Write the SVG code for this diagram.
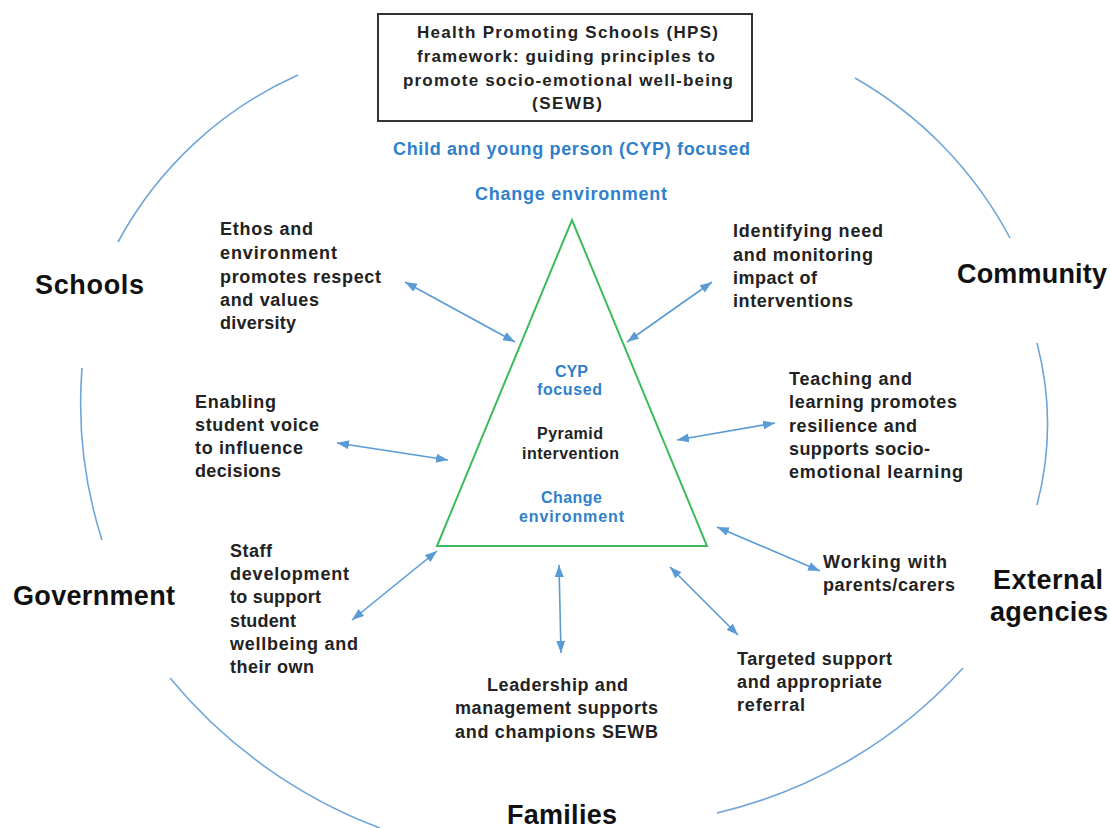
<svg xmlns="http://www.w3.org/2000/svg" width="1110" height="828" viewBox="0 0 1110 828">
<defs>
<style>
.t{font-family:"Liberation Sans",Arial,sans-serif;font-weight:bold;fill:#222;}
.b{font-size:18px;}
.box{font-size:17px;}
.blue{fill:#2F7FCC;}
.tri{font-size:16px;}
.big{font-size:27px;fill:#111;}
.arc{fill:none;stroke:#6FA6DA;stroke-width:1.6;}
.con{fill:none;stroke:#5B9BD5;stroke-width:1.6;marker-start:url(#ah);marker-end:url(#ah);}
</style>
<marker id="ah" markerUnits="userSpaceOnUse" markerWidth="14" markerHeight="10" refX="12" refY="4.5" orient="auto-start-reverse">
<path d="M0,0 L12,4.5 L0,9 z" fill="#5B9BD5"/>
</marker>
</defs>
<rect width="1110" height="828" fill="#fff"/>

<g id="arcs">
<path class="arc" d="M298,75 A380,380 0 0 0 118,242"/>
<path class="arc" d="M855,78 A400,400 0 0 1 1010,238"/>
<path class="arc" d="M82,368 A450,450 0 0 0 102,540"/>
<path class="arc" d="M1037,343 A320,320 0 0 1 1037,505"/>
<path class="arc" d="M170,678 A500,500 0 0 0 380,828"/>
<path class="arc" d="M963,668 A480,480 0 0 1 717,813"/>
</g>

<g id="title">
<rect x="378" y="14" width="374" height="107" fill="#fff" stroke="#333" stroke-width="2"/>
<text class="t box" x="417" y="38" textLength="301">Health Promoting  Schools (HPS)</text>
<text class="t box" x="417" y="62" textLength="298">framework: guiding principles to</text>
<text class="t box" x="403" y="86" textLength="330">promote socio-emotional  well-being</text>
<text class="t box" x="532" y="109" textLength="70">(SEWB)</text>
</g>

<g id="cyp-label">
<text class="t b blue" x="393" y="155" textLength="357">Child and young person (CYP) focused</text>
<text class="t b blue" x="475" y="200" textLength="192">Change environment</text>
</g>

<g id="pyramid">
<polygon points="572,220 707,546 437,546" fill="none" stroke="#3DBB5C" stroke-width="2"/>
<text class="t tri blue" x="555" y="377" textLength="33">CYP</text>
<text class="t tri blue" x="537" y="395" textLength="65">focused</text>
<text class="t tri" x="537" y="439" textLength="66">Pyramid</text>
<text class="t tri" x="522" y="459" textLength="97">intervention</text>
<text class="t tri blue" x="541" y="503" textLength="61">Change</text>
<text class="t tri blue" x="519" y="522" textLength="105">environment</text>
</g>

<g id="ethos">
<text class="t b" x="220" y="235" textLength="93">Ethos  and</text>
<text class="t b" x="220" y="259" textLength="117">environment</text>
<text class="t b" x="220" y="283" textLength="161">promotes  respect</text>
<text class="t b" x="220" y="306" textLength="99">and values</text>
<text class="t b" x="220" y="329" textLength="76">diversity</text>
</g>

<g id="enabling">
<text class="t b" x="195" y="408" textLength="81">Enabling</text>
<text class="t b" x="195" y="431" textLength="124">student  voice</text>
<text class="t b" x="195" y="454" textLength="108">to influence</text>
<text class="t b" x="195" y="477" textLength="86">decisions</text>
</g>

<g id="staff">
<text class="t b" x="230" y="557" textLength="42">Staff</text>
<text class="t b" x="230" y="580" textLength="119">development</text>
<text class="t b" x="230" y="603" textLength="91">to support</text>
<text class="t b" x="230" y="627" textLength="66">student</text>
<text class="t b" x="230" y="650" textLength="128">wellbeing and</text>
<text class="t b" x="230" y="673" textLength="84">their own</text>
</g>

<g id="leadership">
<text class="t b" x="487" y="691" textLength="141">Leadership and</text>
<text class="t b" x="455" y="714" textLength="203">management supports</text>
<text class="t b" x="455" y="738" textLength="203">and champions  SEWB</text>
</g>

<g id="identifying">
<text class="t b" x="733" y="237" textLength="150">Identifying need</text>
<text class="t b" x="733" y="261" textLength="140">and monitoring</text>
<text class="t b" x="733" y="284" textLength="84">impact of</text>
<text class="t b" x="733" y="307" textLength="120">interventions</text>
</g>

<g id="teaching">
<text class="t b" x="789" y="385" textLength="123">Teaching and</text>
<text class="t b" x="789" y="408" textLength="168">learning promotes</text>
<text class="t b" x="789" y="432" textLength="128">resilience and</text>
<text class="t b" x="789" y="455" textLength="141">supports  socio-</text>
<text class="t b" x="789" y="478" textLength="174">emotional learning</text>
</g>

<g id="working">
<text class="t b" x="823" y="568" textLength="124">Working with</text>
<text class="t b" x="823" y="591" textLength="132">parents/carers</text>
</g>

<g id="targeted">
<text class="t b" x="737" y="665" textLength="155">Targeted support</text>
<text class="t b" x="737" y="688" textLength="145">and appropriate</text>
<text class="t b" x="737" y="711" textLength="68">referral</text>
</g>

<g id="outer-labels">
<text class="t big" x="35" y="294" textLength="109">Schools</text>
<text class="t big" x="957" y="283" textLength="150">Community</text>
<text class="t big" x="13" y="605" textLength="162">Government</text>
<text class="t big" x="993" y="589" textLength="110">External</text>
<text class="t big" x="990" y="621" textLength="118">agencies</text>
<text class="t big" x="507" y="824" textLength="110">Families</text>
</g>

<g id="connectors">
<line class="con" x1="405" y1="282" x2="515" y2="342"/>
<line class="con" x1="337" y1="443" x2="448" y2="460"/>
<line class="con" x1="712" y1="282" x2="627" y2="342"/>
<line class="con" x1="677" y1="440" x2="775" y2="423"/>
<line class="con" x1="437" y1="551" x2="352" y2="620"/>
<line class="con" x1="559" y1="565" x2="561" y2="653"/>
<line class="con" x1="670" y1="567" x2="738" y2="635"/>
<line class="con" x1="717" y1="527" x2="820" y2="571"/>
</g>
</svg>
